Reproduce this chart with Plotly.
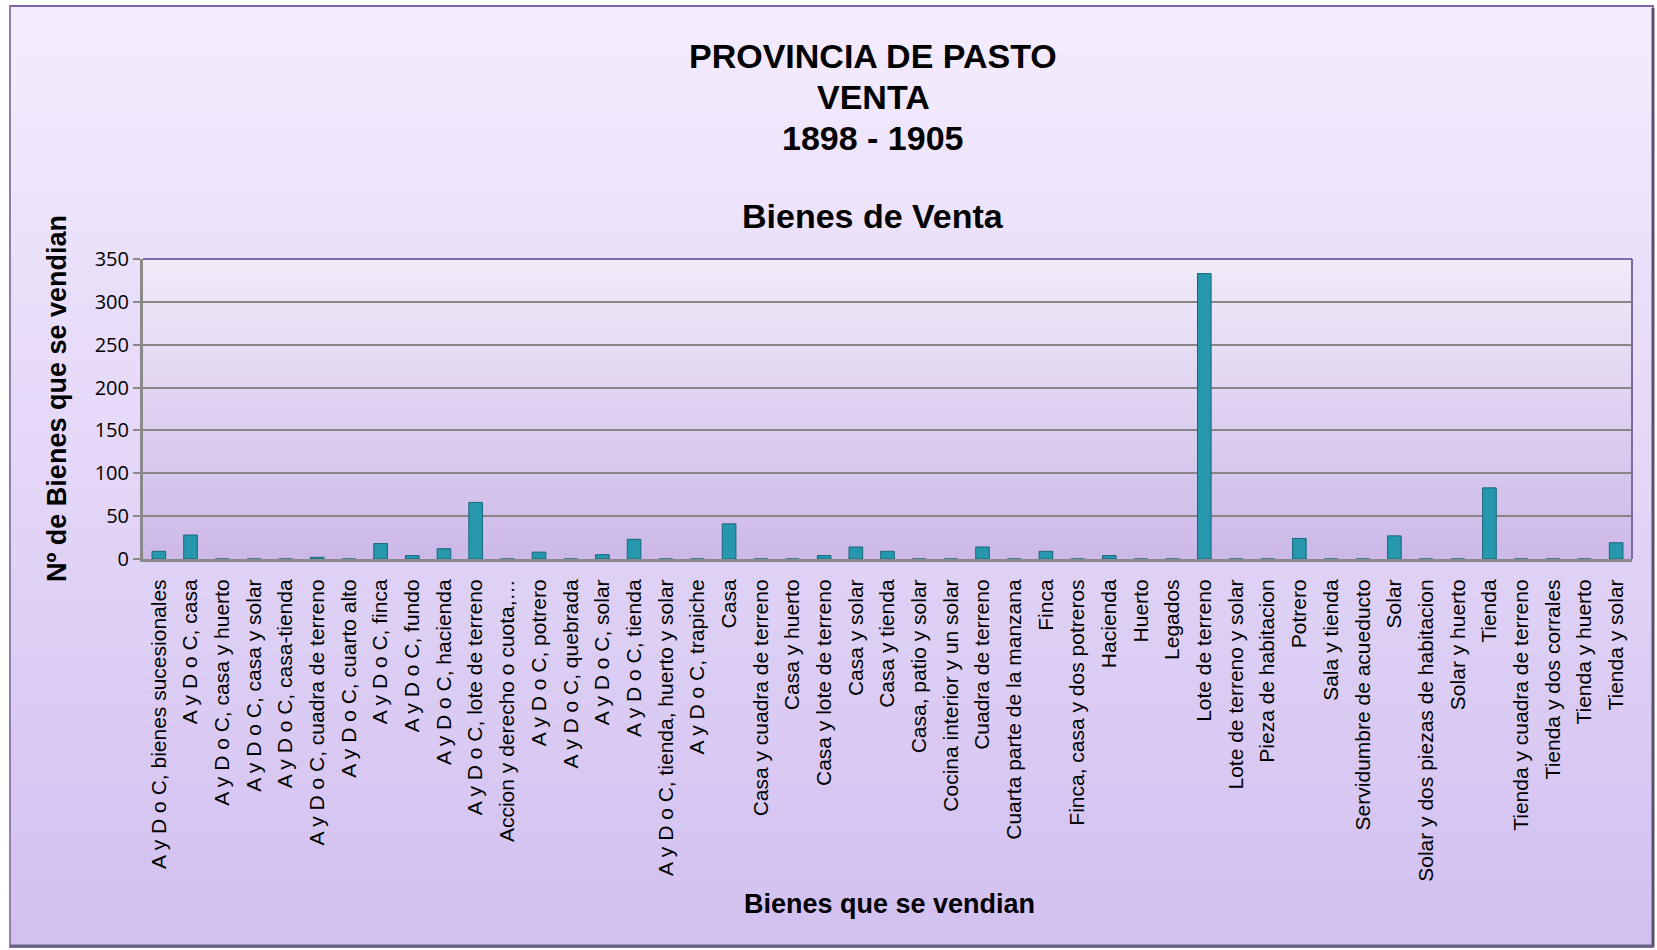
import plotly.graph_objects as go

categories = [
    "A y D o C, bienes sucesionales", "A y D o C, casa", "A y D o C, casa y huerto",
    "A y D o C, casa y solar", "A y D o C, casa-tienda", "A y D o C, cuadra de terreno",
    "A y D o C, cuarto alto", "A y D o C, finca", "A y D o C, fundo", "A y D o C, hacienda",
    "A y D o C, lote de terreno", "Accion y derecho o cuota,…", "A y D o C, potrero",
    "A y D o C, quebrada", "A y D o C, solar", "A y D o C, tienda",
    "A y D o C, tienda, huerto y solar", "A y D o C, trapiche", "Casa",
    "Casa y cuadra de terreno", "Casa y huerto", "Casa y lote de terreno", "Casa y solar",
    "Casa y tienda", "Casa, patio y solar", "Cocina interior y un solar", "Cuadra de terreno",
    "Cuarta parte de la manzana", "Finca", "Finca, casa y dos potreros", "Hacienda", "Huerto",
    "Legados", "Lote de terreno", "Lote de terreno y solar", "Pieza de habitacion", "Potrero",
    "Sala y tienda", "Servidumbre de acueducto", "Solar", "Solar y dos piezas de habitacion",
    "Solar y huerto", "Tienda", "Tienda y cuadra de terreno", "Tienda y dos corrales",
    "Tienda y huerto", "Tienda y solar",
]
values = [
    9, 28, 0, 0, 0, 2, 0, 18, 4, 12,
    66, 0, 8, 0, 5, 23, 0, 0, 41, 0,
    0, 4, 14, 9, 0, 0, 14, 0, 9, 0,
    4, 0, 0, 333, 0, 0, 24, 0, 0, 27,
    0, 0, 83, 0, 0, 0, 19,
]
y_ticks = [0, 50, 100, 150, 200, 250, 300, 350]

title_lines = ["PROVINCIA DE PASTO", "VENTA", "1898 - 1905"]
subtitle = "Bienes de Venta"
x_title = "Bienes que se vendian"
y_title = "Nº de Bienes que se vendian"

W, H = 1657, 950
PL, PR, PT, PB = 143, 1632, 259, 559  # plot area in pixels


def px_x(px):
    return (px - PL) / (PR - PL)


def px_y(py):
    return (PB - py) / (PB - PT)


def hexmix(c1, c2, t):
    a = [int(c1[i:i + 2], 16) for i in (1, 3, 5)]
    b = [int(c2[i:i + 2], 16) for i in (1, 3, 5)]
    return "#%02x%02x%02x" % tuple(round(a[k] + (b[k] - a[k]) * t) for k in range(3))


shapes = []
# chart area gradient background
n = 80
top, bot = 6, 947
for i in range(n):
    y0 = top + (bot - top) * i / n
    y1 = top + (bot - top) * (i + 1) / n + 0.6
    shapes.append(dict(type="rect", xref="paper", yref="paper", layer="below",
                       x0=px_x(10), x1=px_x(1653), y0=px_y(y1), y1=px_y(y0),
                       fillcolor=hexmix("#f4ecfd", "#d2c0f0", i / (n - 1)), line=dict(width=0)))
# plot area gradient
n2 = 40
for i in range(n2):
    y0 = PT + (PB - PT) * i / n2
    y1 = PT + (PB - PT) * (i + 1) / n2 + 0.6
    shapes.append(dict(type="rect", xref="paper", yref="paper", layer="below",
                       x0=0, x1=1, y0=px_y(y1), y1=px_y(y0),
                       fillcolor=hexmix("#f0eaf8", "#cdb9e8", i / (n2 - 1)), line=dict(width=0)))
# chart border
shapes.append(dict(type="rect", xref="paper", yref="paper", layer="above",
                   x0=px_x(10), x1=px_x(1653), y0=px_y(947), y1=px_y(6),
                   line=dict(color="#8f80b0", width=2)))
shapes.append(dict(type="line", xref="paper", yref="paper", layer="above",
                   x0=px_x(1653), x1=px_x(1653), y0=px_y(947), y1=px_y(8),
                   line=dict(color="#5a5070", width=3)))
shapes.append(dict(type="line", xref="paper", yref="paper", layer="above",
                   x0=px_x(10), x1=px_x(1653), y0=px_y(946), y1=px_y(946),
                   line=dict(color="#6a5e84", width=3)))
shapes.append(dict(type="line", xref="paper", yref="paper", layer="above",
                   x0=px_x(10), x1=px_x(1653), y0=px_y(6), y1=px_y(6),
                   line=dict(color="#7a66a8", width=2)))
# plot area top / right purple border
shapes.append(dict(type="line", xref="paper", yref="paper", layer="above",
                   x0=0, x1=1, y0=1, y1=1, line=dict(color="#7d68a8", width=2)))
shapes.append(dict(type="line", xref="paper", yref="paper", layer="above",
                   x0=1, x1=1, y0=0, y1=1, line=dict(color="#7d68a8", width=2)))

annotations = []
for i, line in enumerate(title_lines):
    annotations.append(dict(text="<b>%s</b>" % line, xref="paper", yref="paper",
                            x=px_x(873), y=px_y(56 + 41 * i), showarrow=False,
                            xanchor="center", yanchor="middle",
                            font=dict(family="Arial, Liberation Sans", size=34, color="#000000")))
annotations.append(dict(text="<b>%s</b>" % subtitle, xref="paper", yref="paper",
                        x=px_x(873), y=px_y(216), showarrow=False, xanchor="center", yanchor="middle",
                        font=dict(family="Arial, Liberation Sans", size=34, color="#000000")))
annotations.append(dict(text="<b>%s</b>" % x_title, xref="paper", yref="paper",
                        x=px_x(889), y=px_y(904), showarrow=False, xanchor="center", yanchor="middle",
                        font=dict(family="Arial, Liberation Sans", size=27, color="#000000")))
annotations.append(dict(text="<b>%s</b>" % y_title, xref="paper", yref="paper",
                        x=px_x(57), y=px_y(399), showarrow=False, textangle=-90,
                        xanchor="center", yanchor="middle",
                        font=dict(family="Arial, Liberation Sans", size=27, color="#000000")))

fig = go.Figure(go.Bar(
    x=categories, y=values,
    marker=dict(color="#2797ae", line=dict(color="#17677a", width=1)),
))

fig.update_layout(
    width=W, height=H, autosize=False,
    margin=dict(l=PL, r=W - PR, t=PT, b=H - PB, pad=0),
    paper_bgcolor="#ffffff",
    plot_bgcolor="rgba(0,0,0,0)",
    bargap=0.57,
    showlegend=False,
    shapes=shapes,
    annotations=annotations,
    xaxis=dict(
        type="category", range=[-0.5, len(categories) - 0.5],
        tickangle=-90, tickfont=dict(family="Arial, Liberation Sans", size=21, color="#000000"),
        showgrid=False, showline=True, linecolor="#8a8a8a", linewidth=3,
        ticks="", ticklabelstandoff=9, zeroline=False,
    ),
    yaxis=dict(
        range=[0, 350], tickvals=y_ticks,
        tickfont=dict(family="Open Sans, Noto Sans", size=20, color="#000000"),
        showgrid=True, gridcolor="#868686", gridwidth=2,
        showline=True, linecolor="#8a8a8a", linewidth=3,
        ticks="outside", ticklen=7, tickcolor="#8a8a8a", tickwidth=2,
        zeroline=False,
    ),
)

fig.write_html(
    "out.html",
    config={"displayModeBar": False},
    post_script="document.body.style.margin='0';document.body.style.overflow='hidden';",
)
